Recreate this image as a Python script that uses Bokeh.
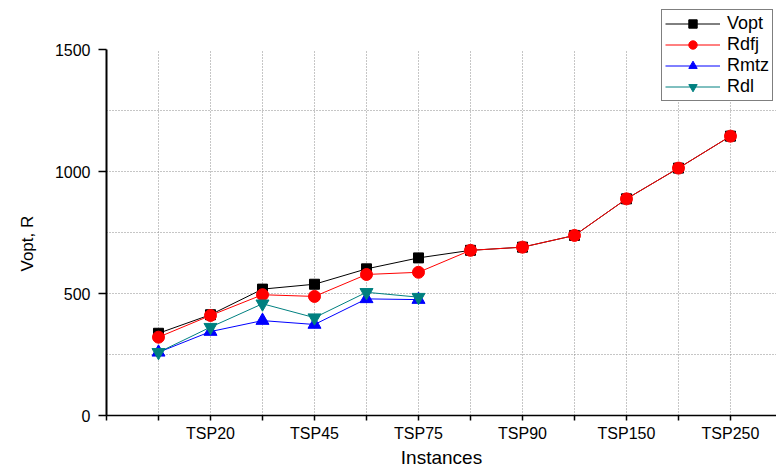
from bokeh.plotting import figure
from bokeh.models import Range1d, FixedTicker, Title
from bokeh.embed import file_html
from bokeh.resources import INLINE

# ---- data ----
positions = [1, 2, 3, 4, 5, 6, 7, 8, 9, 10, 11, 12]
vopt = [337, 413, 518, 538, 601, 646, 677, 690, 738, 888, 1014, 1145]
rdfj = [321, 410, 495, 488, 578, 587, 677, 690, 738, 888, 1014, 1145]
pos_short = [1, 2, 3, 4, 5, 6]
rmtz = [259, 344, 389, 373, 478, 475]
rdl = [259, 362, 458, 401, 505, 485]
tick_pos = [2, 4, 6, 8, 10, 12]
tick_labels = ["TSP20", "TSP45", "TSP75", "TSP90", "TSP150", "TSP250"]
y_ticks = [0, 500, 1000, 1500]
y_grid = [250, 500, 750, 1000, 1250]

FONT = "Liberation Sans"
GRID_COLOR = "#8c8c8c"

p = figure(width=776, height=470, output_backend="svg", toolbar_location=None,
           x_range=Range1d(0, 12.885), y_range=Range1d(0, 1701),
           min_border_left=106, min_border_right=0, min_border_top=0,
           min_border_bottom=55)
p.outline_line_color = None
p.background_fill_color = "white"

# vertical dotted grid lines, limited to the y-axis extent
p.xgrid.visible = False
p.segment(x0=positions, y0=[y_ticks[0]] * len(positions),
          x1=positions, y1=[y_ticks[-1]] * len(positions),
          line_color=GRID_COLOR, line_dash="1 2", line_width=1)

# series
p.line(positions, vopt, line_color="black", line_width=1, legend_label="Vopt")
p.scatter(positions, vopt, marker="square", size=10, fill_color="black",
          line_color="black", legend_label="Vopt")
p.line(positions, rdfj, line_color="red", line_width=1, legend_label="Rdfj")
p.scatter(positions, rdfj, marker="circle", size=12, fill_color="red",
          line_color="red", legend_label="Rdfj")
p.line(pos_short, rmtz, line_color="blue", line_width=1, legend_label="Rmtz")
p.scatter(pos_short, rmtz, marker="triangle", size=13, fill_color="blue",
          line_color="blue", legend_label="Rmtz")
p.line(pos_short, rdl, line_color="#008080", line_width=1, legend_label="Rdl")
p.scatter(pos_short, rdl, marker="inverted_triangle", size=13, fill_color="#008080",
          line_color="#008080", legend_label="Rdl")

# x axis
xa = p.xaxis[0]
xa.ticker = FixedTicker(ticks=tick_pos, minor_ticks=[0, 1, 3, 5, 7, 9, 11])
xa.major_label_overrides = {t: l for t, l in zip(tick_pos, tick_labels)}
xa.major_label_text_font = FONT
xa.major_label_text_font_size = "16px"
xa.major_label_text_color = "black"
xa.major_label_standoff = 4
xa.axis_line_width = 1.5
xa.axis_line_color = "black"
xa.major_tick_in = 0
xa.major_tick_out = 5
xa.minor_tick_in = 0
xa.minor_tick_out = 5
xa.major_tick_line_width = 1.5
xa.minor_tick_line_width = 1.5
xa.major_tick_line_color = "black"
xa.minor_tick_line_color = "black"
xa.axis_label = "Instances"
xa.axis_label_text_font = FONT
xa.axis_label_text_font_size = "19px"
xa.axis_label_text_font_style = "normal"
xa.axis_label_text_color = "black"
xa.axis_label_standoff = 2

# y axis
ya = p.yaxis[0]
ya.bounds = (y_ticks[0], y_ticks[-1])
ya.ticker = FixedTicker(ticks=y_ticks, minor_ticks=[])
ya.major_label_text_font = FONT
ya.major_label_text_font_size = "16px"
ya.major_label_text_color = "black"
ya.major_label_standoff = 8
ya.axis_line_width = 2
ya.axis_line_color = "black"
ya.major_tick_in = 0
ya.major_tick_out = 8
ya.major_tick_line_width = 1.5
ya.major_tick_line_color = "black"

# y axis title, placed along the axis extent
ytitle = Title(text="Vopt, R", align="left", offset=144, standoff=29,
               text_font=FONT, text_font_size="17px", text_font_style="normal",
               text_color="black")
p.add_layout(ytitle, "left")

# horizontal dotted grid
p.ygrid.ticker = FixedTicker(ticks=y_grid)
p.ygrid.grid_line_color = GRID_COLOR
p.ygrid.grid_line_dash = "1 2"
p.ygrid.grid_line_width = 1

# legend
lg = p.legend[0]
lg.location = (555, 314)
lg.border_line_color = "black"
lg.border_line_width = 1
lg.background_fill_color = "white"
lg.background_fill_alpha = 1
lg.padding = 3
lg.margin = 0
lg.spacing = 0
lg.glyph_width = 55
lg.glyph_height = 21
lg.label_height = 21
lg.label_standoff = 7
lg.label_text_font = FONT
lg.label_text_font_size = "18px"
lg.label_text_color = "black"

open("out.html", "w").write(file_html(p, INLINE))
